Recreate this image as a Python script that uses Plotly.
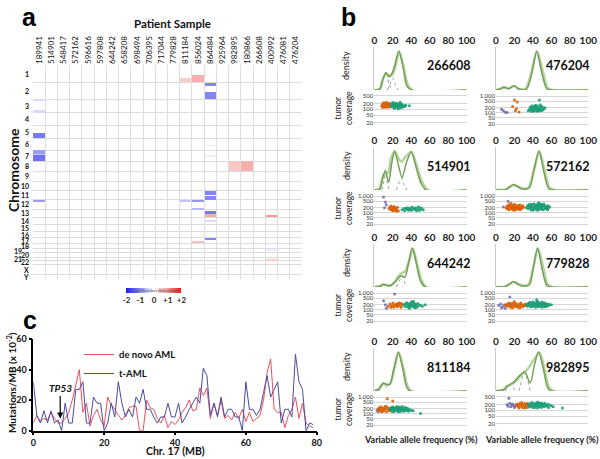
import plotly.graph_objects as go

W, H = 600, 459
FONT = "Lato"
ARIAL = "Liberation Sans"

# ---------------- Panel a data ----------------
PATIENTS = ["189941", "514901", "548417", "572162", "596616", "597808", "644242", "658208",
            "698494", "706395", "717044", "779828", "811184", "856024", "864484", "925964",
            "982895", "180866", "266608", "400992", "476081", "476204"]
CHROMS = [str(i) for i in range(1, 23)] + ["X", "Y"]
CHROM_LEN_MB = [249.3, 243.2, 198.0, 191.2, 180.9, 171.1, 159.1, 146.4, 141.2, 135.5, 135.0, 133.9,
                115.2, 107.3, 102.5, 90.4, 81.2, 78.1, 59.1, 63.0, 48.1, 51.3, 155.3, 59.4]

CNV_PATIENT = [0, 0, 0, 0, 0, 0, 0, 0, 12, 13, 14, 14, 16, 17, 14, 14, 12, 13, 13, 14, 14, 14, 19, 14, 13, 19, 19, 14, 14, 14]
CNV_CHROM = ["3", "3", "3", "5", "7", "7", "7", "12", "1", "1", "2", "2", "8", "8", "11", "11", "12", "12", "12",
             "13", "13", "14", "13", "17", "17", "19", "21", "6", "7", "X"]
CNV_START = [10, 165, 182, 100, 0, 55, 75, 15, 195, 150, 5, 135, 0, 0, 10, 80, 15, 15, 120,
             40, 65, 55, 98, 8, 42, 8, 30, 95, 80, 55]
CNV_END = [25, 180, 195, 180.9, 55, 75, 159.1, 35, 249.3, 249.3, 55, 243.2, 146.4, 146.4, 60, 135, 35, 35, 133.9,
           65, 115.2, 72, 112, 24, 81.2, 22, 45, 108, 92, 68]
CNV_VALUE = [-0.3, -0.35, -0.3, -1.1, -0.8, -0.45, -1.2, -0.8, 0.5, 0.8, -1.0, -1.0, 0.55, 0.8, -1.0, -1.0,
             -0.5, -0.85, -0.55, -1.1, 0.8, -0.3, 1.0, -1.0, 0.6, -0.15, 0.5, -0.15, -0.15, -0.1]
CNV_TICKS = [-2, -1, 0, 1, 2]
CNV_TICKTEXT = ["-2", "-1", "0", "+1", "+2"]

# ---------------- Panel c data ----------------
DE_NOVO = [5, 10, 6, 8, 7, 12, 8, 5, 5, 8,
           12, 20, 30, 40, 12, 18, 3, 10, 14, 7,
           3, 22, 17, 14, 10, 7, 10, 15, 16, 16,
           0, 0, 20, 15, 14, 8, 5, 10, 2, 6,
           4, 7, 12, 15, 20, 13, 14, 28, 23, 28,
           8, 18, 10, 20, 8, 10, 7, 12, 8, 14,
           6, 12, 6, 8, 10, 20, 38, 47, 14, 12,
           12, 2, 10, 14, 22, 8, 18, 5, 3, 2]
T_AML = [32, 10, 5, 13, 5, 13, 5, 7, 0, 18,
         5, 5, 27, 27, 32, 5, 5, 22, 18, 18,
         0, 5, 18, 9, 32, 18, 9, 14, 9, 22,
         18, 27, 14, 14, 9, 5, 9, 9, 18, 9,
         9, 18, 5, 9, 14, 18, 22, 18, 41, 36,
         10, 18, 9, 22, 9, 14, 14, 9, 9, 0,
         32, 14, 14, 10, 14, 25, 36, 22, 27, 32,
         5, 14, 14, 9, 50, 32, 27, 0, 5, 4]

# ---------------- Panel b data ----------------
SAMPLE_IDS = ["266608", "476204", "514901", "572162", "644242", "779828", "811184", "982895"]
VAF_TICKS = [0, 20, 40, 60, 80, 100]
COV_TICKS = [20, 50, 100, 200, 500, 1000]
COV_TICKTEXT = ["20", "50", "100", "200", "500", "1,000"]
COV_MAX_TICK = [500, 1000, 1000, 1000, 1000, 1000, 1000, 500]

# density curves (x = VAF %, y = relative density)
D266608_DARK_X = [0, 6, 9, 12.5, 16, 19, 22, 26.5, 31, 35, 40, 100]
D266608_DARK_Y = [0, 0.02, 0.25, 0.45, 0.34, 0.42, 0.62, 1.0, 0.6, 0.12, 0, 0]
D266608_LIGHT_X = [0, 6, 9, 12.5, 16, 19.5, 23, 27, 31.5, 36, 41, 100]
D266608_LIGHT_Y = [0, 0.03, 0.26, 0.41, 0.36, 0.40, 0.62, 0.97, 0.62, 0.15, 0, 0]
D266608_GREY = [([6, 9, 12.5, 16, 19], [0, 0.2, 0.42, 0.15, 0]), ([14, 17, 20, 23, 26], [0, 0.15, 0.3, 0.12, 0])]

D476204_DARK_X = [0, 4, 8.5, 14, 19.5, 25, 33, 39, 44, 49, 55, 60, 100]
D476204_DARK_Y = [0, 0.02, 0.07, 0.035, 0.11, 0.02, 0.02, 0.45, 1.0, 0.5, 0.03, 0, 0]
D476204_LIGHT_X = [0, 4, 8.5, 14, 19.5, 25, 32, 38, 44.5, 50, 56, 61, 100]
D476204_LIGHT_Y = [0, 0.02, 0.07, 0.04, 0.10, 0.03, 0.03, 0.42, 0.98, 0.55, 0.05, 0, 0]
D476204_GREY = []

D514901_DARK_X = [0, 6, 9, 12, 15.5, 19, 22, 26, 30, 35, 40, 45, 50, 56, 100]
D514901_DARK_Y = [0, 0.02, 0.3, 0.5, 0.2, 0.7, 0.98, 0.65, 0.32, 0.72, 0.98, 0.6, 0.2, 0, 0]
D514901_LIGHT_X = [0, 5, 8, 11, 15, 18, 22, 26, 29, 34, 40, 46, 51, 58, 100]
D514901_LIGHT_Y = [0, 0.02, 0.25, 0.42, 0.45, 0.8, 1.0, 0.82, 0.72, 0.85, 0.97, 0.62, 0.25, 0, 0]
D514901_GREY = [([8, 10.5, 12, 13.5, 16], [0, 0.25, 0.5, 0.25, 0]), ([24, 27, 29.5, 32, 35], [0, 0.2, 0.3, 0.15, 0])]

D572162_DARK_X = [0, 10, 15, 19, 23, 28, 36, 41, 46.5, 52, 57, 62, 100]
D572162_DARK_Y = [0, 0.01, 0.08, 0.14, 0.09, 0.03, 0.05, 0.5, 1.0, 0.45, 0.04, 0, 0]
D572162_LIGHT_X = [0, 10, 15, 19, 23, 28, 35, 40.5, 47, 52.5, 58, 63, 100]
D572162_LIGHT_Y = [0, 0.01, 0.08, 0.13, 0.1, 0.04, 0.06, 0.45, 0.98, 0.52, 0.06, 0, 0]
D572162_GREY = []

D644242_DARK_X = [0, 6, 10, 14, 18, 23, 27, 30, 33, 37, 41, 45, 50, 55, 100]
D644242_DARK_Y = [0, 0.02, 0.07, 0.04, 0.04, 0.14, 0.25, 0.28, 0.25, 0.6, 1.0, 0.65, 0.15, 0, 0]
D644242_LIGHT_X = [0, 6, 10, 14, 18, 23, 27, 30, 33.5, 38, 42, 46, 51, 56, 100]
D644242_LIGHT_Y = [0, 0.02, 0.06, 0.04, 0.05, 0.16, 0.3, 0.36, 0.4, 0.7, 0.98, 0.62, 0.18, 0, 0]
D644242_GREY = [([24, 27, 30, 33, 35], [0, 0.15, 0.28, 0.1, 0])]

D779828_DARK_X = [0, 10, 15, 19, 23, 28, 36, 40.5, 45, 50, 55, 60, 100]
D779828_DARK_Y = [0, 0.01, 0.08, 0.14, 0.08, 0.03, 0.05, 0.5, 1.0, 0.45, 0.04, 0, 0]
D779828_LIGHT_X = [0, 10, 15, 19, 23, 28, 35, 40, 45.5, 51, 56, 61, 100]
D779828_LIGHT_Y = [0, 0.01, 0.08, 0.13, 0.09, 0.04, 0.06, 0.45, 0.98, 0.52, 0.06, 0, 0]
D779828_GREY = []

D811184_DARK_X = [0, 5, 10, 14, 17, 21, 26, 31, 35, 39, 100]
D811184_DARK_Y = [0, 0.05, 0.2, 0.15, 0.17, 0.55, 1.0, 0.55, 0.1, 0, 0]
D811184_LIGHT_X = [0, 5, 9.5, 13, 17, 21.5, 26.5, 31.5, 36, 40, 100]
D811184_LIGHT_Y = [0, 0.06, 0.2, 0.17, 0.19, 0.55, 0.98, 0.58, 0.12, 0, 0]
D811184_GREY = [([5, 8, 10, 12, 15], [0, 0.12, 0.2, 0.12, 0])]

D982895_DARK_X = [0, 8, 12, 15, 19, 25, 31, 37, 42, 46, 51, 56, 60, 100]
D982895_DARK_Y = [0, 0.03, 0.12, 0.17, 0.22, 0.38, 0.49, 0.21, 0.7, 1.0, 0.6, 0.08, 0, 0]
D982895_LIGHT_X = [0, 8, 12, 15, 19, 25, 30, 35, 41, 47, 52, 57, 62, 100]
D982895_LIGHT_Y = [0, 0.03, 0.12, 0.15, 0.2, 0.35, 0.45, 0.58, 0.8, 0.98, 0.62, 0.12, 0, 0]
D982895_GREY = [([25, 28, 31, 34, 37], [0, 0.3, 0.48, 0.3, 0]), ([10, 13, 15, 18, 21], [0, 0.1, 0.15, 0.1, 0])]

# tumor coverage points (VAF %, coverage)
P266608_PURPLE = []
P266608_ORANGE = [(8, 150), (9, 180), (10, 130), (11, 200), (12, 160), (13, 140), (14, 190), (15, 125), (16, 170),
                  (17, 150), (18, 135), (10, 215), (12, 125), (14, 165), (16, 205), (11, 145), (13, 230), (15, 155),
                  (9, 125), (17, 185), (12, 180), (14, 140)]
P266608_GREEN = [(18, 150), (19, 190), (20, 130), (21, 170), (22, 210), (23, 140), (24, 160), (25, 185), (26, 120),
                 (27, 150), (28, 175), (29, 140), (30, 160), (31, 130), (32, 150), (20, 220), (22, 110), (24, 200),
                 (26, 140), (28, 230), (30, 180), (21, 160), (23, 125), (25, 150), (27, 190), (29, 120), (33, 140),
                 (34, 160), (19, 140), (26, 105), (38, 150), (23, 175), (25, 130), (20, 160)]

P476204_PURPLE = [(8, 130), (10, 105), (6, 160), (12, 100)]
P476204_ORANGE = [(20, 600), (23, 450), (21, 130), (22, 170), (18, 240), (25, 110)]
P476204_GREEN = [(36, 150), (38, 180), (40, 130), (41, 220), (42, 160), (43, 190), (44, 140), (45, 250), (46, 170),
                 (47, 200), (48, 130), (49, 160), (50, 230), (51, 150), (52, 180), (37, 210), (39, 260), (41, 120),
                 (43, 280), (45, 120), (47, 150), (49, 240), (44, 210), (46, 130), (42, 250), (40, 190), (48, 190),
                 (50, 140), (39, 150), (53, 200), (35, 130), (47, 600), (44, 170), (45, 180), (42, 140), (48, 300),
                 (38, 120)]

P514901_PURPLE = [(10, 900), (12, 450), (11, 200), (13, 300)]
P514901_ORANGE = [(16, 180), (17, 220), (18, 150), (19, 200), (20, 170), (21, 240), (22, 140), (23, 190), (24, 160),
                  (25, 210), (26, 130), (20, 130), (18, 250), (22, 200), (24, 120), (19, 160), (21, 180)]
P514901_GREEN = [(30, 150), (32, 180), (33, 130), (35, 200), (36, 160), (38, 190), (40, 140), (41, 220), (42, 170),
                 (44, 150), (45, 200), (46, 130), (47, 180), (48, 230), (50, 160), (51, 190), (53, 150), (43, 180),
                 (39, 160), (37, 140), (34, 170), (49, 140)]

P572162_PURPLE = [(13, 500), (8, 220)]
P572162_ORANGE = [(11, 200), (12, 250), (13, 170), (14, 300), (15, 220), (16, 180), (17, 260), (18, 150), (19, 210),
                  (20, 330), (21, 190), (22, 240), (23, 160), (24, 280), (25, 200), (26, 150), (27, 230), (28, 180),
                  (29, 260), (14, 150), (16, 380), (18, 280), (20, 140), (22, 180), (24, 210), (26, 290), (13, 230),
                  (15, 270), (17, 200), (19, 170), (21, 260), (23, 220), (25, 170), (27, 190), (30, 210), (12, 180)]
P572162_GREEN = [(33, 200), (34, 260), (35, 170), (36, 310), (37, 220), (38, 150), (39, 280), (40, 190), (41, 350),
                 (42, 230), (43, 160), (44, 300), (45, 210), (46, 400), (47, 250), (48, 180), (49, 330), (50, 220),
                 (51, 150), (52, 280), (53, 200), (54, 240), (55, 170), (56, 260), (57, 200), (58, 230), (36, 240),
                 (38, 330), (40, 140), (42, 290), (44, 170), (46, 220), (48, 270), (50, 160), (52, 340), (54, 190),
                 (56, 150), (39, 230), (41, 180), (43, 250), (45, 300), (47, 160), (49, 210), (51, 260), (53, 170),
                 (55, 230), (37, 190), (45, 140), (47, 380), (50, 300), (44, 230), (42, 200)]

P644242_PURPLE = [(10, 350), (13, 120), (22, 900), (12, 200)]
P644242_ORANGE = [(15, 160), (17, 220), (19, 180), (20, 250), (21, 140), (22, 200), (23, 170), (24, 230), (25, 150),
                  (26, 190), (27, 260), (28, 170), (29, 140), (30, 210), (18, 140), (24, 180), (26, 220), (29, 240)]
P644242_GREEN = [(32, 180), (33, 220), (34, 150), (35, 260), (36, 190), (37, 140), (38, 230), (39, 170), (40, 290),
                 (41, 200), (42, 150), (43, 250), (44, 180), (45, 210), (46, 140), (47, 240), (48, 170), (50, 190),
                 (52, 160), (55, 200), (38, 120), (40, 160), (42, 320), (36, 230), (44, 130), (39, 200), (41, 250),
                 (43, 170), (37, 190), (45, 170)]

P779828_PURPLE = [(3, 180), (5, 220), (7, 150), (9, 200), (10, 120), (6, 130), (12, 180), (15, 600)]
P779828_ORANGE = [(10, 180), (12, 220), (13, 160), (14, 250), (15, 190), (16, 140), (17, 210), (18, 170), (19, 260),
                  (20, 200), (21, 150), (22, 230), (23, 180), (24, 140), (25, 210), (26, 170), (27, 250), (28, 190),
                  (29, 150), (30, 200), (31, 170), (32, 220), (16, 240), (18, 130), (22, 190), (26, 130), (20, 300)]
P779828_GREEN = [(33, 200), (34, 160), (35, 240), (36, 190), (37, 280), (38, 150), (39, 220), (40, 300), (41, 180),
                 (42, 250), (43, 140), (44, 210), (45, 330), (46, 190), (47, 260), (48, 160), (49, 230), (50, 290),
                 (51, 180), (52, 210), (53, 150), (54, 240), (55, 200), (56, 170), (57, 220), (58, 190), (60, 200),
                 (36, 260), (38, 210), (40, 160), (42, 190), (44, 270), (46, 230), (48, 200), (50, 140), (52, 260),
                 (54, 180), (39, 180), (41, 240), (43, 200), (45, 170), (47, 210), (49, 180), (51, 240), (53, 210),
                 (55, 160), (44, 400), (37, 160), (46, 150)]

P811184_PURPLE = [(3, 160), (5, 200), (4, 130)]
P811184_ORANGE = [(4, 180), (5, 220), (6, 150), (7, 260), (8, 190), (9, 140), (10, 230), (11, 170), (12, 200),
                  (13, 130), (14, 250), (15, 180), (16, 150), (17, 220), (18, 170), (19, 140), (20, 200), (8, 130),
                  (12, 280), (14, 800), (20, 600), (6, 190), (10, 160)]
P811184_GREEN = [(17, 200), (18, 160), (19, 240), (20, 180), (21, 130), (22, 220), (23, 170), (24, 260), (25, 150),
                 (26, 200), (27, 180), (28, 240), (29, 140), (30, 210), (31, 170), (32, 230), (33, 150), (34, 190),
                 (35, 160), (36, 210), (37, 140), (38, 180), (40, 160), (42, 150), (20, 250), (22, 150), (24, 190),
                 (26, 130), (28, 170), (30, 270), (32, 140), (34, 230), (36, 170), (23, 210), (25, 240), (27, 140),
                 (29, 200), (31, 190), (33, 220), (35, 190), (21, 190), (26, 260), (50, 100)]

P982895_PURPLE = [(12, 200), (13, 160), (14, 420), (15, 230), (16, 150), (17, 190), (18, 210), (19, 170), (20, 140),
                  (21, 180), (22, 200)]
P982895_ORANGE = [(22, 170), (23, 210), (24, 150), (25, 190), (26, 230), (27, 160), (28, 200), (29, 140), (30, 180),
                  (31, 220), (32, 160), (33, 190), (34, 140), (35, 200), (36, 170), (37, 150), (25, 130), (28, 250),
                  (31, 130), (34, 230)]
P982895_GREEN = [(35, 190), (36, 150), (37, 220), (38, 170), (39, 250), (40, 140), (41, 200), (42, 180), (43, 230),
                 (44, 160), (45, 270), (46, 190), (47, 150), (48, 210), (49, 240), (50, 170), (51, 200), (52, 150),
                 (53, 230), (54, 180), (55, 160), (56, 200), (57, 140), (58, 190), (60, 170), (62, 150), (40, 220),
                 (42, 140), (44, 200), (46, 240), (48, 160), (50, 220), (52, 190), (45, 130), (47, 230), (39, 170),
                 (43, 190), (49, 140), (72, 130)]

SAMPLES = [
    (D266608_DARK_X, D266608_DARK_Y, D266608_LIGHT_X, D266608_LIGHT_Y, D266608_GREY, P266608_PURPLE, P266608_ORANGE, P266608_GREEN),
    (D476204_DARK_X, D476204_DARK_Y, D476204_LIGHT_X, D476204_LIGHT_Y, D476204_GREY, P476204_PURPLE, P476204_ORANGE, P476204_GREEN),
    (D514901_DARK_X, D514901_DARK_Y, D514901_LIGHT_X, D514901_LIGHT_Y, D514901_GREY, P514901_PURPLE, P514901_ORANGE, P514901_GREEN),
    (D572162_DARK_X, D572162_DARK_Y, D572162_LIGHT_X, D572162_LIGHT_Y, D572162_GREY, P572162_PURPLE, P572162_ORANGE, P572162_GREEN),
    (D644242_DARK_X, D644242_DARK_Y, D644242_LIGHT_X, D644242_LIGHT_Y, D644242_GREY, P644242_PURPLE, P644242_ORANGE, P644242_GREEN),
    (D779828_DARK_X, D779828_DARK_Y, D779828_LIGHT_X, D779828_LIGHT_Y, D779828_GREY, P779828_PURPLE, P779828_ORANGE, P779828_GREEN),
    (D811184_DARK_X, D811184_DARK_Y, D811184_LIGHT_X, D811184_LIGHT_Y, D811184_GREY, P811184_PURPLE, P811184_ORANGE, P811184_GREEN),
    (D982895_DARK_X, D982895_DARK_Y, D982895_LIGHT_X, D982895_LIGHT_Y, D982895_GREY, P982895_PURPLE, P982895_ORANGE, P982895_GREEN),
]

# ---------------- helpers ----------------
def fx(p):
    return p / W

def fy(p):
    return 1 - p / H

def note(x, y, text, size, weight="normal", angle=0, color="#111", family=FONT, xanchor="center"):
    return dict(x=fx(x), y=fy(y), xref="paper", yref="paper", text=text, showarrow=False,
                xanchor=xanchor, yanchor="middle", textangle=angle,
                font=dict(size=size, family=family, weight=weight, color=color))

fig = go.Figure()
annotations = []
layout = {}

# ================= Panel a =================
offsets = []
acc = 0.0
for L in CHROM_LEN_MB:
    offsets.append(acc)
    acc += L
TOTAL = acc
off = dict(zip(CHROMS, offsets))
bases = [off[c] + s for c, s in zip(CNV_CHROM, CNV_START)]
lengths = [e - s for s, e in zip(CNV_START, CNV_END)]

CNV_SCALE = [[0, "#1a1aff"], [0.25, "#8585f5"], [0.5, "#ffffff"], [0.75, "#f59a9a"], [1, "#f01a1a"]]
fig.add_trace(go.Bar(
    x=CNV_PATIENT, y=lengths, base=bases, width=0.92, xaxis="x", yaxis="y",
    marker=dict(color=CNV_VALUE, cmin=-2, cmax=2, colorscale=CNV_SCALE, line=dict(width=0),
                showscale=True,
                colorbar=dict(orientation="h", x=fx(154), xanchor="center", y=fy(283), yanchor="top",
                              len=55, lenmode="pixels", thickness=5, thicknessmode="pixels",
                              outlinewidth=0, xpad=0, ypad=0, ticks="",
                              tickvals=CNV_TICKS, ticktext=CNV_TICKTEXT,
                              tickfont=dict(size=8, family=FONT, weight="bold", color="#222"),
                              title=dict(text="Copy Number Alteration", side="top",
                                         font=dict(size=4.5, family=FONT, color="#555")))),
    showlegend=False, hoverinfo="skip"))

layout["xaxis"] = dict(domain=[fx(33), fx(302)], range=[-0.5, len(PATIENTS) - 0.5], anchor="y", side="top",
                       tickmode="array", tickvals=list(range(len(PATIENTS))), ticktext=PATIENTS,
                       tickangle=-90, tickfont=dict(size=8, family=FONT, color="#111"), ticks="",
                       showgrid=False, zeroline=False, showline=False,
                       minor=dict(tickmode="array", tickvals=[i - 0.5 for i in range(len(PATIENTS) + 1)],
                                  showgrid=True, gridcolor="#dedede", gridwidth=1, ticks=""))
layout["yaxis"] = dict(domain=[fy(279), fy(65)], range=[TOTAL, 0], anchor="x",
                       tickmode="array", tickvals=offsets + [TOTAL], showticklabels=False, ticks="",
                       showgrid=True, gridcolor="#dcdcdc", gridwidth=1, zeroline=False, showline=False)

for c, o, L in zip(CHROMS, offsets, CHROM_LEN_MB):
    xr = 24 if c in ("19", "21") else 31
    annotations.append(dict(x=fx(xr), xref="paper", y=o + L / 2, yref="y", text=c, showarrow=False,
                            xanchor="right", yanchor="middle",
                            font=dict(size=7, family=FONT, weight="bold", color="#111")))

annotations.append(note(172, 23, "Patient Sample", 11.5, "bold"))
annotations.append(note(13, 170, "Chromosome", 14, "bold", angle=-90))

# ================= Panel c =================
fig.add_trace(go.Scatter(x=list(range(len(DE_NOVO))), y=DE_NOVO, mode="lines", name="de novo AML",
                         xaxis="x3", yaxis="y3", line=dict(color="#e8505b", width=1), hoverinfo="skip"))
fig.add_trace(go.Scatter(x=list(range(len(T_AML))), y=T_AML, mode="lines", name="t-AML",
                         xaxis="x3", yaxis="y3", line=dict(color="#4a4a9e", width=1), hoverinfo="skip"))

axis_c_common = dict(showline=True, linecolor="black", linewidth=1.5, ticks="outside", ticklen=3, tickwidth=1.5,
                     tickcolor="black", showgrid=False, zeroline=False,
                     tickfont=dict(size=9, family=FONT, weight="bold", color="#111"))
layout["xaxis3"] = dict(domain=[fx(33.3), fx(316.7)], range=[0, 80], anchor="y3", tickvals=[0, 20, 40, 60, 80],
                        **axis_c_common)
layout["yaxis3"] = dict(domain=[fy(430.7), fy(339)], range=[0, 60], anchor="x3", tickvals=[0, 20, 40, 60],
                        **axis_c_common)
annotations.append(note(175, 451, "Chr. 17 (MB)", 10.5, "bold"))
annotations.append(note(11, 383, "Mutations/MB (x 10<sup>-2</sup>)", 10, "bold", angle=-90))
annotations.append(dict(x=7.6, y=8, xref="x3", yref="y3", text="<b><i>TP53</i></b>", showarrow=True,
                        arrowhead=2, arrowsize=1, arrowwidth=1.2, arrowcolor="black", ax=0, ay=-30,
                        font=dict(size=10, family=FONT, color="#111")))

# ================= Panel b =================
ROW_TOP = [42, 142, 239, 343]
COL_X = [(374.3, 466.7), (496, 588.3)]
ID_X = [449, 568]
GREEN_LIGHT = "#b3d59a"
GREEN_DARK = "#74a05a"
DOT_COLORS = ["#7570b3", "#d95f02", "#1b9e77"]

for i, (sid, samp, cmax) in enumerate(zip(SAMPLE_IDS, SAMPLES, COV_MAX_TICK)):
    dx, dy, lx, ly, greys, pur, ora, gre = samp
    row, col = i // 2, i % 2
    yt = ROW_TOP[row]
    x0, x1 = COL_X[col]
    nd, ns = 4 + 2 * i, 5 + 2 * i
    for gx, gy in greys:
        fig.add_trace(go.Scatter(x=gx, y=gy, mode="lines", line=dict(color="#9a9a9a", width=1, dash="dot",
                                                                     shape="spline"),
                                 xaxis=f"x{nd}", yaxis=f"y{nd}", showlegend=False, hoverinfo="skip"))
    fig.add_trace(go.Scatter(x=lx, y=ly, mode="lines", line=dict(color=GREEN_LIGHT, width=2.5, shape="spline",
                                                                 smoothing=0.8),
                             xaxis=f"x{nd}", yaxis=f"y{nd}", showlegend=False, hoverinfo="skip"))
    fig.add_trace(go.Scatter(x=dx, y=dy, mode="lines", line=dict(color=GREEN_DARK, width=1.5, shape="spline",
                                                                 smoothing=0.8),
                             xaxis=f"x{nd}", yaxis=f"y{nd}", showlegend=False, hoverinfo="skip"))
    for pts, colr in zip((pur, ora, gre), DOT_COLORS):
        if not pts:
            continue
        fig.add_trace(go.Scatter(x=[p[0] for p in pts], y=[p[1] for p in pts], mode="markers",
                                 marker=dict(color=colr, size=3, opacity=0.9, line=dict(width=0)),
                                 xaxis=f"x{ns}", yaxis=f"y{ns}", showlegend=False, hoverinfo="skip"))
    layout[f"xaxis{nd}"] = dict(domain=[fx(x0), fx(x1)], range=[0, 100], anchor=f"y{nd}", side="top",
                                tickvals=VAF_TICKS, ticks="", showgrid=False, zeroline=False, showline=False,
                                tickfont=dict(size=10, family=FONT, weight="bold", color="#222"))
    layout[f"yaxis{nd}"] = dict(domain=[fy(yt + 48), fy(yt + 5)], range=[0, 1.1], anchor=f"x{nd}",
                                showticklabels=False, ticks="", showgrid=False, zeroline=False,
                                showline=True, linecolor="#c8c8c8", linewidth=1)
    tv = [t for t in COV_TICKS if t <= cmax]
    tt = [s for t, s in zip(COV_TICKS, COV_TICKTEXT) if t <= cmax]
    yr = [1.08, 2.84] if cmax == 500 else [1.12, 3.2]
    layout[f"xaxis{ns}"] = dict(domain=[fx(x0), fx(x1)], range=[0, 100], anchor=f"y{ns}", visible=False)
    layout[f"yaxis{ns}"] = dict(domain=[fy(yt + 85), fy(yt + 51)], type="log", range=yr, anchor=f"x{ns}",
                                tickvals=tv, ticktext=tt, ticks="", showgrid=True, gridcolor="#d6d6d6",
                                gridwidth=1, zeroline=False, showline=False,
                                tickfont=dict(size=6, family=FONT, color="#333"))
    annotations.append(note(ID_X[col], yt + 24, sid, 12.5, "bold"))
    if col == 0:
        annotations.append(note(346, yt + 24, "density", 9, color="#222", angle=-90))
        annotations.append(note(343, yt + 66, "tumor<br>coverage", 8.5, color="#222", angle=-90))

for xc in (421, 542):
    annotations.append(note(xc, 439, "Variable allele frequency (%)", 9, "bold", color="#222"))

# panel letters
for letter, px_, py_ in (("a", 29, 17), ("b", 348, 17), ("c", 30, 320)):
    annotations.append(note(px_, py_, letter, 25, "bold", color="black", family=ARIAL))

fig.update_layout(
    width=W, height=H, margin=dict(l=0, r=0, t=0, b=0, autoexpand=False),
    paper_bgcolor="white", plot_bgcolor="white",
    font=dict(family=FONT, color="#111"), annotations=annotations,
    legend=dict(x=fx(79), y=fy(340), xanchor="left", yanchor="top", bgcolor="rgba(0,0,0,0)",
                font=dict(size=9.5, family=FONT, weight="bold", color="#111"), itemwidth=30,
                tracegroupgap=0),
    bargap=0, **layout)

fig.write_html("out.html", config={"displayModeBar": False},
               post_script="document.body.style.margin='0px';document.body.style.padding='0px';")
